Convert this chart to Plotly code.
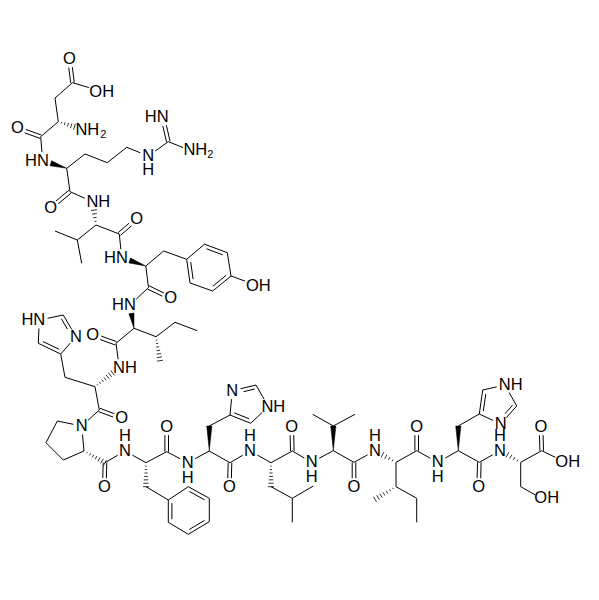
import math
import plotly.graph_objects as go

# atom positions (pixels, y going down)
atoms = {
    # Asp
    'o1': (69.5, 59), 'c1': (72.5, 82.7), 'oh1': (97, 90), 'c2': (55, 98), 'c3': (58.3, 121.7),
    'n1': (82.5, 129.5), 'c4': (40.7, 136.7), 'o2': (17.3, 128.3),
    # Arg
    'n2': (42.7, 160.7), 'c5': (66.7, 168.3), 'c6': (85, 154), 'c7': (107.3, 162.7), 'c8': (126.7, 147.3),
    'n3': (148.3, 156), 'c9': (168.3, 141.7), 'n4': (162.7, 117.3), 'n5': (191, 150.7),
    'c10': (70, 191.7), 'o3': (50.7, 207.7),
    # Val
    'n6': (92.7, 201.7), 'c11': (96, 225), 'c12': (119.3, 234), 'o4': (136.7, 219),
    'c13': (77.3, 240), 'c14': (55, 231), 'c15': (81.7, 263.3),
    # Tyr
    'n7': (121.7, 257.7), 'c16': (145.8, 266), 'c17': (163.7, 251),
    'r1': (186.7, 259.3), 'r2': (204.5, 244.2), 'r3': (227.3, 252.7),
    'r4': (231, 276), 'r5': (212.7, 291), 'r6': (190, 283),
    'oh2': (253, 284), 'c18': (148.5, 287.5), 'o5': (170.7, 298.3),
    # Ile
    'n8': (130, 305), 'c19': (134, 328.3), 'c20': (156, 336.7), 'c21': (175, 322.3), 'c22': (197.3, 330.7),
    'c23': (160, 360.7), 'c24': (116, 343.3), 'o6': (92.7, 335),
    # His
    'n9': (119.3, 367.7), 'c25': (95, 386.7), 'c26': (65, 377.3), 'h1': (60.7, 354), 'h2': (38.3, 343.3),
    'h3': (39.3, 320), 'h4': (63.3, 315), 'h5': (76, 336.7), 'c27': (99.3, 410), 'o7': (121.7, 418.3),
    # Pro
    'n10': (81.7, 426), 'p1': (57.3, 421), 'p2': (46, 442.7), 'p3': (63.3, 460), 'p4': (84, 451),
    'c28': (105, 462.7), 'o8': (104.3, 486.7),
    # Phe
    'n11': (125, 451), 'c29': (146, 462.7), 'c30': (146, 486.7),
    'f1': (168.3, 500), 'f2': (188.3, 486.7), 'f3': (209.3, 498.3),
    'f4': (209.3, 521.7), 'f5': (188.3, 534.3), 'f6': (168.3, 522.3),
    'c31': (166.7, 451.7), 'o9': (166.7, 426.7),
    # His
    'n12': (187.7, 462.7), 'c32': (209.3, 451), 'c33': (209.3, 426),
    'i1': (230, 415), 'i2': (232.3, 390.7), 'i3': (256, 385), 'i4': (268.3, 406.7), 'i5': (250.7, 423.3),
    'c34': (230, 462.7), 'o10': (229.3, 486.7),
    # Leu
    'n13': (250, 451), 'c35': (271, 462.7), 'c36': (271, 486.7), 'c37': (292.3, 498.3),
    'c38': (292.3, 522.3), 'c39': (313.3, 486), 'c40': (292.3, 451), 'o11': (291.7, 426.7),
    # Val
    'n14': (311.7, 462.3), 'c41': (333.3, 450.7), 'c42': (333.3, 426), 'c43': (312.7, 414.3), 'c44': (355, 414.3),
    'c45': (354, 462.3), 'o12': (354, 486.7),
    # Ile
    'n15': (375, 450.7), 'c46': (396, 462.3), 'c47': (396, 486.7), 'c48': (375, 499.3), 'c49': (416.7, 498.3),
    'c50': (416.7, 522.3), 'c51': (416.7, 450.7), 'o13': (416.7, 426.7),
    # His
    'n16': (437.7, 462.3), 'c52': (458.3, 450.7), 'c53': (458.3, 426),
    'j1': (479.3, 414), 'j2': (482.7, 390), 'j3': (505, 385), 'j4': (516.7, 406), 'j5': (500.7, 424),
    'c54': (479.3, 462.3), 'o14': (478.7, 486.7),
    # Ser
    'n17': (500, 450.7), 'c55': (520.7, 462.3), 'c56': (520.7, 486.7), 'oh3': (542.5, 499),
    'c57': (541.7, 450.7), 'o15': (541, 426.7), 'oh4': (563, 461),
}

# atoms that carry a letter, so bonds stop short of them
heteroatoms = [n for n in atoms if n[0] in 'no'] + ['h3', 'h5', 'i2', 'i4', 'j3', 'j5']

single_bonds = [
    ('c1', 'oh1'), ('c1', 'c2'), ('c2', 'c3'), ('c3', 'c4'), ('c4', 'n2'),
    ('c5', 'c6'), ('c6', 'c7'), ('c7', 'c8'), ('c8', 'n3'), ('n3', 'c9'), ('c9', 'n5'),
    ('c5', 'c10'), ('c10', 'n6'), ('c11', 'c12'), ('c11', 'c13'), ('c13', 'c14'), ('c13', 'c15'),
    ('c12', 'n7'), ('c16', 'c17'), ('c17', 'r1'), ('r1', 'r2'), ('r3', 'r4'), ('r5', 'r6'), ('r4', 'oh2'),
    ('c16', 'c18'), ('c18', 'n8'), ('c19', 'c20'), ('c20', 'c21'), ('c21', 'c22'), ('c19', 'c24'),
    ('c24', 'n9'), ('c25', 'c26'), ('c26', 'h1'), ('h2', 'h3'), ('h3', 'h4'), ('h5', 'h1'), ('c25', 'c27'),
    ('c27', 'n10'), ('n10', 'p1'), ('p1', 'p2'), ('p2', 'p3'), ('p3', 'p4'), ('p4', 'n10'),
    ('c28', 'n11'), ('n11', 'c29'), ('c29', 'c31'), ('f1', 'c30'), ('f1', 'f2'), ('f3', 'f4'), ('f5', 'f6'),
    ('c31', 'n12'), ('n12', 'c32'), ('c32', 'c34'), ('c33', 'i1'), ('i2', 'i1'), ('i3', 'i4'), ('i4', 'i5'),
    ('c34', 'n13'), ('n13', 'c35'), ('c35', 'c40'), ('c36', 'c37'), ('c37', 'c38'), ('c37', 'c39'),
    ('c40', 'n14'), ('n14', 'c41'), ('c41', 'c45'), ('c42', 'c43'), ('c42', 'c44'), ('c45', 'n15'),
    ('c46', 'c47'), ('c47', 'c49'), ('c49', 'c50'), ('c46', 'c51'), ('c51', 'n16'), ('n16', 'c52'),
    ('c52', 'c54'), ('c53', 'j1'), ('j1', 'j5'), ('j2', 'j3'), ('j3', 'j4'), ('c54', 'n17'),
    ('c55', 'c56'), ('c56', 'oh3'), ('c55', 'c57'), ('c57', 'oh4'),
]
# the two lines sit either side of the bond axis
double_bonds = [
    ('c1', 'o1'), ('c4', 'o2'), ('c9', 'n4'), ('c10', 'o3'), ('c12', 'o4'), ('c18', 'o5'), ('c24', 'o6'),
    ('c27', 'o7'), ('c28', 'o8'), ('c31', 'o9'), ('c34', 'o10'), ('c40', 'o11'), ('c45', 'o12'),
    ('c51', 'o13'), ('c54', 'o14'), ('c57', 'o15'),
]
# ring double bonds: full line plus a shorter one towards the third atom
ring_double_bonds = [
    ('r2', 'r3', 'r5'), ('r4', 'r5', 'r2'), ('r6', 'r1', 'r3'),
    ('f2', 'f3', 'f5'), ('f4', 'f5', 'f2'), ('f6', 'f1', 'f3'),
    ('h1', 'h2', 'h4'), ('h4', 'h5', 'h2'),
    ('i1', 'i5', 'i3'), ('i2', 'i3', 'i5'),
    ('j1', 'j2', 'j4'), ('j4', 'j5', 'j2'),
]
# narrow end first
wedge_bonds = [('c5', 'n2'), ('c16', 'n7'), ('c19', 'n8'), ('c32', 'c33'), ('c41', 'c42'), ('c52', 'c53')]
hash_bonds = [
    ('c3', 'n1'), ('c11', 'n6'), ('c20', 'c23'), ('c25', 'n9'), ('p4', 'c28'), ('c29', 'c30'),
    ('c35', 'c36'), ('c46', 'n15'), ('c47', 'c48'), ('c55', 'n17'),
]

label_text = [
    'O', 'OH', 'NH', 'O', 'HN', 'N', 'H', 'HN', 'NH', 'O', 'NH', 'O', 'HN', 'OH', 'O',
    'HN', 'O', 'NH', 'HN', 'N', 'O', 'N', 'O', 'N', 'H', 'O', 'N', 'H', 'O', 'N', 'NH',
    'N', 'H', 'O', 'N', 'H', 'O', 'N', 'H', 'O', 'N', 'H', 'O', 'NH', 'N', 'N', 'H',
    'O', 'OH', 'OH',
]
label_x = [
    69.5, 101.7, 87.3, 17.3, 37, 148.3, 148.3, 156.7, 195.3, 50.7, 98.3, 136.7, 116, 258.3, 170.7,
    124, 92.7, 125, 33.3, 76, 121.7, 81.7, 104.3, 125, 125, 166.7, 187.7, 187.7, 229.3, 232.3, 273.3,
    250, 250, 291.7, 311.7, 311.7, 354, 375, 375, 416.7, 437.7, 437.7, 478.7, 510.7, 500.7, 500, 500,
    541, 567.7, 546.7,
]
label_y = [
    60, 92.7, 131, 129.3, 161.7, 157, 171, 118.3, 151, 208.7, 202.7, 220, 258.7, 286.7, 299.3,
    306, 336, 368.7, 321, 337.7, 419.3, 427, 487.7, 452, 436.7, 427.7, 463.7, 478.7, 487.7, 391.7, 407.7,
    452, 436.7, 427.7, 463.3, 477.7, 487.7, 451.7, 437, 427.7, 463.3, 477.7, 487.7, 386, 425, 451.7, 437,
    427.7, 463.3, 499.3,
]
subscript_text = ['2', '2']
subscript_x = [103.3, 210.3]
subscript_y = [135, 155]

LINE_W = 1.0
FONT_SIZE = 16.5
BODY_MARGIN = 8  # the page keeps its default margin round the plot


def point(name):
    return atoms[name]


def trimmed(a, b):
    # pull the ends back where a letter sits on the atom
    (x0, y0), (x1, y1) = point(a), point(b)
    d = math.hypot(x1 - x0, y1 - y0)
    ux, uy = (x1 - x0) / d, (y1 - y0) / d
    s0 = 8.5 if a in heteroatoms else 0
    s1 = 8.5 if b in heteroatoms else 0
    return (x0 + ux * s0, y0 + uy * s0), (x1 - ux * s1, y1 - uy * s1), ux, uy


line_x, line_y = [], []
hash_x, hash_y = [], []
wedge_x, wedge_y = [], []


def add_segment(p, q, xs=line_x, ys=line_y):
    xs.extend([p[0], q[0], None])
    ys.extend([p[1], q[1], None])


for a, b in single_bonds:
    p, q, _, _ = trimmed(a, b)
    add_segment(p, q)

for a, b in double_bonds:
    p, q, ux, uy = trimmed(a, b)
    off = 1.8
    add_segment((p[0] - uy * off, p[1] + ux * off), (q[0] - uy * off, q[1] + ux * off))
    add_segment((p[0] + uy * off, p[1] - ux * off), (q[0] + uy * off, q[1] - ux * off))

for a, b, c in ring_double_bonds:
    p, q, ux, uy = trimmed(a, b)
    add_segment(p, q)
    cx, cy = point(c)
    nx, ny = -uy, ux
    if (cx - p[0]) * nx + (cy - p[1]) * ny < 0:
        nx, ny = -nx, -ny
    d = math.hypot(q[0] - p[0], q[1] - p[1])
    inset = 0.14 * d
    add_segment(
        (p[0] + ux * inset + nx * 3.6, p[1] + uy * inset + ny * 3.6),
        (q[0] - ux * inset + nx * 3.6, q[1] - uy * inset + ny * 3.6),
    )

for a, b in wedge_bonds:
    p, q, ux, uy = trimmed(a, b)
    w = 2.6
    wedge_x.extend([p[0], q[0] - uy * w, q[0] + uy * w, p[0], None])
    wedge_y.extend([p[1], q[1] + ux * w, q[1] - ux * w, p[1], None])

for a, b in hash_bonds:
    p, q, ux, uy = trimmed(a, b)
    d = math.hypot(q[0] - p[0], q[1] - p[1])
    n = int(d / 3.1)
    for i in range(1, n + 1):
        t = i / n
        w = 0.4 + 2.6 * t
        mx, my = p[0] + ux * d * t, p[1] + uy * d * t
        add_segment((mx - uy * w, my + ux * w), (mx + uy * w, my - ux * w), hash_x, hash_y)

fig = go.Figure()
fig.add_trace(go.Scatter(x=line_x, y=line_y, mode='lines', line=dict(color='black', width=LINE_W), hoverinfo='skip'))
fig.add_trace(go.Scatter(x=hash_x, y=hash_y, mode='lines', line=dict(color='black', width=0.8), hoverinfo='skip'))
fig.add_trace(go.Scatter(x=wedge_x, y=wedge_y, mode='lines', fill='toself', fillcolor='black',
                         line=dict(color='black', width=0.5), hoverinfo='skip'))
fig.add_trace(go.Scatter(
    x=label_x, y=label_y, text=label_text, mode='text', textposition='middle center',
    textfont=dict(family='Liberation Sans', size=FONT_SIZE, color='black'), hoverinfo='skip',
))
fig.add_trace(go.Scatter(
    x=subscript_x, y=subscript_y, text=subscript_text, mode='text', textposition='middle center',
    textfont=dict(family='Liberation Sans', size=11, color='black'), hoverinfo='skip',
))
fig.update_layout(
    width=599, height=600,
    margin=dict(l=0, r=0, t=0, b=0),
    paper_bgcolor='white', plot_bgcolor='white',
    showlegend=False,
    xaxis=dict(range=[BODY_MARGIN, 599 + BODY_MARGIN], visible=False),
    yaxis=dict(range=[600 + BODY_MARGIN, BODY_MARGIN], visible=False),
)
fig.write_html("out.html")
